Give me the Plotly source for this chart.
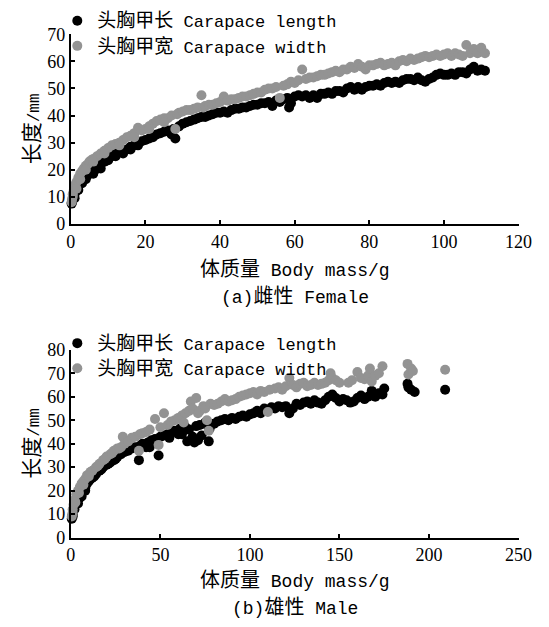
import plotly.graph_objects as go

# ---------------- Data ----------------
# (a) Female
f_len_x = [0.3,0.5,0.8,1,1.2,1.5,1.8,2,2.5,3,3.5,4,4.5,5,5.5,6,6.5,7,7.5,8,9,10,11,12,13,14,15,16,17,18,19,20,
           21,22,23,24,25,26,27,27.5,28,29,30,31,32,33,34,35,36,37,38,39,40,41,42,43,44,45,46,47,48,49,50,51,52,
           53,54,55,56,57,58,58.5,59,60,61,62,63,64,65,66,67,68,69,70,71,72,73,74,75,76,77,78,79,80,81,82,83,84,
           85,86,87,88,89,90,91,92,93,94,95,96,97,98,99,100,101,102,103,104,105,106,107,108,109,110,111,
           0.2,1,2,3,4,6,8,10,12,14,16,18]
f_len_y = [8,9,10.5,11,12,12.5,13.5,14,15,16,16.5,17.5,18,19,19.5,20,20,20.5,21,22,23,24.5,25,26,26.5,27,27.5,28.5,29,29.5,30.5,31,
           31.5,32,33,33.5,34,34.5,33,35,31.5,36,37,37.5,38,38.5,39,39.5,39.5,40,40.5,41,41,41.5,41,42,42.5,42.5,43,43,43.5,44,44,44.5,44.5,
           45,43.5,45.5,45,46,46.5,43,44.5,47,47.5,47,47.5,46.5,47.5,46.5,48,48,48.5,48,49,49,48.5,50,50.5,49.5,50.5,49.5,50.5,51,51,51.5,51,52,
           52.5,52,52.5,52,53,53.5,53.5,53,54,53,52.5,53.5,54,55,55.5,55,55,55.5,55,56,56,55.5,57,58,56.5,57,56.5,
           7.5,9.5,12.5,15,16.5,18.5,20.5,23.5,25,26,27.5,29]
f_wid_x = [0.2,0.3,0.5,0.8,1,1.2,1.5,2,2.5,3,3.5,4,4.5,5,5.5,6,7,8,9,10,11,12,13,14,15,16,17,18,19,20,21,22,23,24,25,26,
           27,28,28.5,29,30,31,32,33,34,35,35.5,36,37,38,39,40,41,42,43,44,45,46,47,48,49,50,51,52,53,54,55,56,57,58,59,
           60,61,62,63,64,65,66,67,68,69,70,71,72,73,74,75,76,77,78,79,80,81,82,83,84,85,86,87,88,89,90,91,92,93,94,95,
           96,97,98,99,100,101,102,103,104,105,106,107,108,109,110,111,
           0.5,1.5,2.5,4,6,9,13,17,21,25]
f_wid_y = [8,9,11,12.5,13.5,14.5,15.5,17,18.5,19.5,20.5,21.5,22,23,23.5,24,25,26,27,28,29,29.5,30,31,32,32.5,33.5,35.5,34.5,35,36,37,38,38.5,39,39,
           40,35,40.5,41,41.5,42,42,42.5,43,47.5,43,43.5,44,44,44.5,45,47,45.5,46,46,46.5,47,47,47.5,48,48.5,48.5,49.5,50,50,50.5,46.5,51,51.5,52.5,
           52,53,57,53.5,54,54,54.5,55,55,55.5,56,56.5,56,57,57,58,57.5,59,58,57,58.5,58.5,59,59.5,58.5,59,59.5,58.5,60,60.5,60,61,60.5,61,61.5,62,
           61.5,62,62.5,62,62.5,63,62,63,62.5,62,66,63,64.5,63,65,63,
           10,13,16.5,20,23,26,29,32,35,37.5]

# (b) Male
m_len_x = [0.5,1,1.5,2,3,4,5,6,7,8,9,10,11,12,14,16,18,20,22,24,26,28,30,32,34,36,38,38.5,40,42,43,44,45,47,49,50,52,54,55,
           56,58,60,61,62,64,65,66,68,69,70,71,72,73,75,76,77,77.5,80,82,84,86,88,90,92,94,96,98,100,102,104,106,108,110,
           112,114,116,118,120,122,124,126,128,130,132,134,136,138,140,142,144,146,148,150,152,154,156,158,160,162,164,
           166,168,170,172,174,175,188,188.5,190,192,209,
           1,2,4,6,8,13,17,21,25]
m_len_y = [8,10,12,13.5,15,16.5,17,19,20,21,23,24,25,25.5,27,28.5,30,31,32,33,34.5,35.5,36.5,37,38,38.5,33,39,40,38.5,40.5,38.5,41.5,42,35,43,43.5,44,42.5,
           45,45.5,44,46.5,44,47,41,46,43,40.5,47.5,41.5,48,43.5,49,48,41,46.5,48.5,49.5,50,50.5,50,51,50.5,51.5,52,51.5,52.5,53,54,53,55,54.5,
           55.5,55,56,55.5,56,53,55,57,56.5,57.5,58,57,58.5,57.5,57,58.5,60,61,59.5,58,59,58.5,57.5,58,59.5,60.5,59,
           60,62.5,60,61.5,61,63.5,65.5,64,63,62,63,
           9,12,14.5,17.5,20,26,29,31.5,33.5]
m_wid_x = [0.5,1,1.5,2,3,4,5,6,7,8,9,10,11,12,14,16,18,20,22,24,26,28,29,30,32,34,36,38,38.5,40,42,44,47,49,50,52,54,56,58,
           60,62,63,64,66,67,68,70,71,72,74,75,76,77,78,80,82,84,86,88,90,92,94,96,98,100,102,104,106,108,110,111,114,116,
           118,120,122,124,126,128,130,132,134,136,138,140,142,144,145,146,148,150,155,157,160,162,164,166,167,168,170,172,
           174,188,188.5,190,191,209,
           1,2.5,4.5,7,10,15,19,23,27]
m_wid_y = [9,12,14,16,18.5,20,21.5,23,24,25,26.5,27,28,28.5,30,31.5,33,34.5,35.5,37,38,38.5,43,40,41,42.5,43,37,44,44.5,45,46,50.5,39.5,47,53,48,49.5,50,
           51,52,49,53,54,58,55,59.5,53,54,56,55,50,45.5,57,56.5,57,58,59,58,58.5,59,60,60.5,61,61.5,62,61,62.5,62,53.5,63,63.5,64,
           63,64.5,68,65,64,65.5,66,64.5,65,66,65,65.5,66,67,70,68,67,66,66,67,70.5,68,67.5,69,72,66.5,69,70,
           73,74,69.5,72,71,71.5,
           10.5,15,19,22.5,26,30.5,33.5,36,38]

legend_names = ["头胸甲长 Carapace length", "头胸甲宽 Carapace width"]
female_ticks_x = [0, 20, 40, 60, 80, 100, 120]
female_ticks_y = [0, 10, 20, 30, 40, 50, 60, 70]
male_ticks_x = [0, 50, 100, 150, 200, 250]
male_ticks_y = [0, 10, 20, 30, 40, 50, 60, 70, 80]
x_title = ("体质量", " Body mass/g")
y_title = ("长度", "/mm")
sub_a = ("(a)", "雌性", " Female")
sub_b = ("(b)", "雄性", " Male")

# ---------------- Styling ----------------
W, H = 549, 627
BLACK = "#000000"
GRAY = "#939393"
MONO = "Liberation Mono, Noto Sans CJK SC, monospace"
NUMF = "Liberation Serif"
CJK_SIZE = 20


def cjk(s, size=CJK_SIZE):
    return f'<span style="font-family:Noto Sans CJK SC;font-size:{size}px">{s}</span>'


def legend_label(name):
    zh, en = name.split(" ", 1)
    return cjk(zh, 19) + " " + en


def py(p):
    """pixel y (from top) -> paper fraction"""
    return 1 - p / H


def px(p):
    return p / W


fig = go.Figure()

panels = [
    dict(xs=(f_len_x, f_wid_x), ys=(f_len_y, f_wid_y), xa="x", ya="y", legend="legend"),
    dict(xs=(m_len_x, m_wid_x), ys=(m_len_y, m_wid_y), xa="x2", ya="y2", legend="legend2"),
]
for pnl in panels:
    for k, col in enumerate([BLACK, GRAY]):
        fig.add_trace(go.Scatter(
            x=pnl["xs"][k], y=pnl["ys"][k], mode="markers",
            name=legend_label(legend_names[k]),
            marker=dict(color=col, size=10, line=dict(width=0)),
            xaxis=pnl["xa"], yaxis=pnl["ya"], legend=pnl["legend"],
            cliponaxis=False, showlegend=True,
        ))

axis_common = dict(
    showline=True, linecolor="black", linewidth=2, mirror=False,
    ticks="inside", ticklen=4, tickwidth=1.5, tickcolor="black",
    showgrid=False, zeroline=False,
    tickfont=dict(family=NUMF, size=18, color="black"),
)

x0, x1 = px(69), px(531)
fig.update_layout(
    width=W, height=H,
    margin=dict(l=0, r=0, t=0, b=0),
    paper_bgcolor="white", plot_bgcolor="white",
    showlegend=True,
    xaxis=dict(domain=[x0, x1], range=[0, 120], tickvals=female_ticks_x, anchor="y", **axis_common),
    yaxis=dict(domain=[py(221), py(25)], range=[0, 70], tickvals=female_ticks_y, anchor="x", **axis_common),
    xaxis2=dict(domain=[x0, x1], range=[0, 250], tickvals=male_ticks_x, anchor="y2", **axis_common),
    yaxis2=dict(domain=[py(545), py(351)], range=[0, 80], tickvals=male_ticks_y, anchor="x2", **axis_common),
    legend=dict(x=px(55), y=py(-7), xanchor="left", yanchor="top", bgcolor="rgba(0,0,0,0)",
                font=dict(family=MONO, size=17, color="black"), itemwidth=30, tracegroupgap=0,
                traceorder="normal"),
    legend2=dict(x=px(55), y=py(326), xanchor="left", yanchor="top", bgcolor="rgba(0,0,0,0)",
                 font=dict(family=MONO, size=17, color="black"), itemwidth=30, tracegroupgap=0,
                 traceorder="normal"),
)

ann_font = dict(family=MONO, size=18, color="black")
xt = cjk(x_title[0]) + x_title[1]
yt = cjk(y_title[0], 21) + '<span style="font-size:16px">' + y_title[1] + "</span>"
sa = sub_a[0] + cjk(sub_a[1]) + sub_a[2]
sb = sub_b[0] + cjk(sub_b[1]) + sub_b[2]
xc = (x0 + x1) / 2
for text, yy in [(xt, 266), (sa, 294), (xt, 587), (sb, 615)]:
    fig.add_annotation(text=text, x=xc, y=py(yy), xref="paper", yref="paper",
                       showarrow=False, xanchor="center", yanchor="middle", font=ann_font)
for yy in [123, 448]:
    fig.add_annotation(text=yt, x=px(27), y=py(yy), xref="paper", yref="paper",
                       showarrow=False, xanchor="center", yanchor="middle", textangle=-90, font=ann_font)

fig.write_html("out.html")
